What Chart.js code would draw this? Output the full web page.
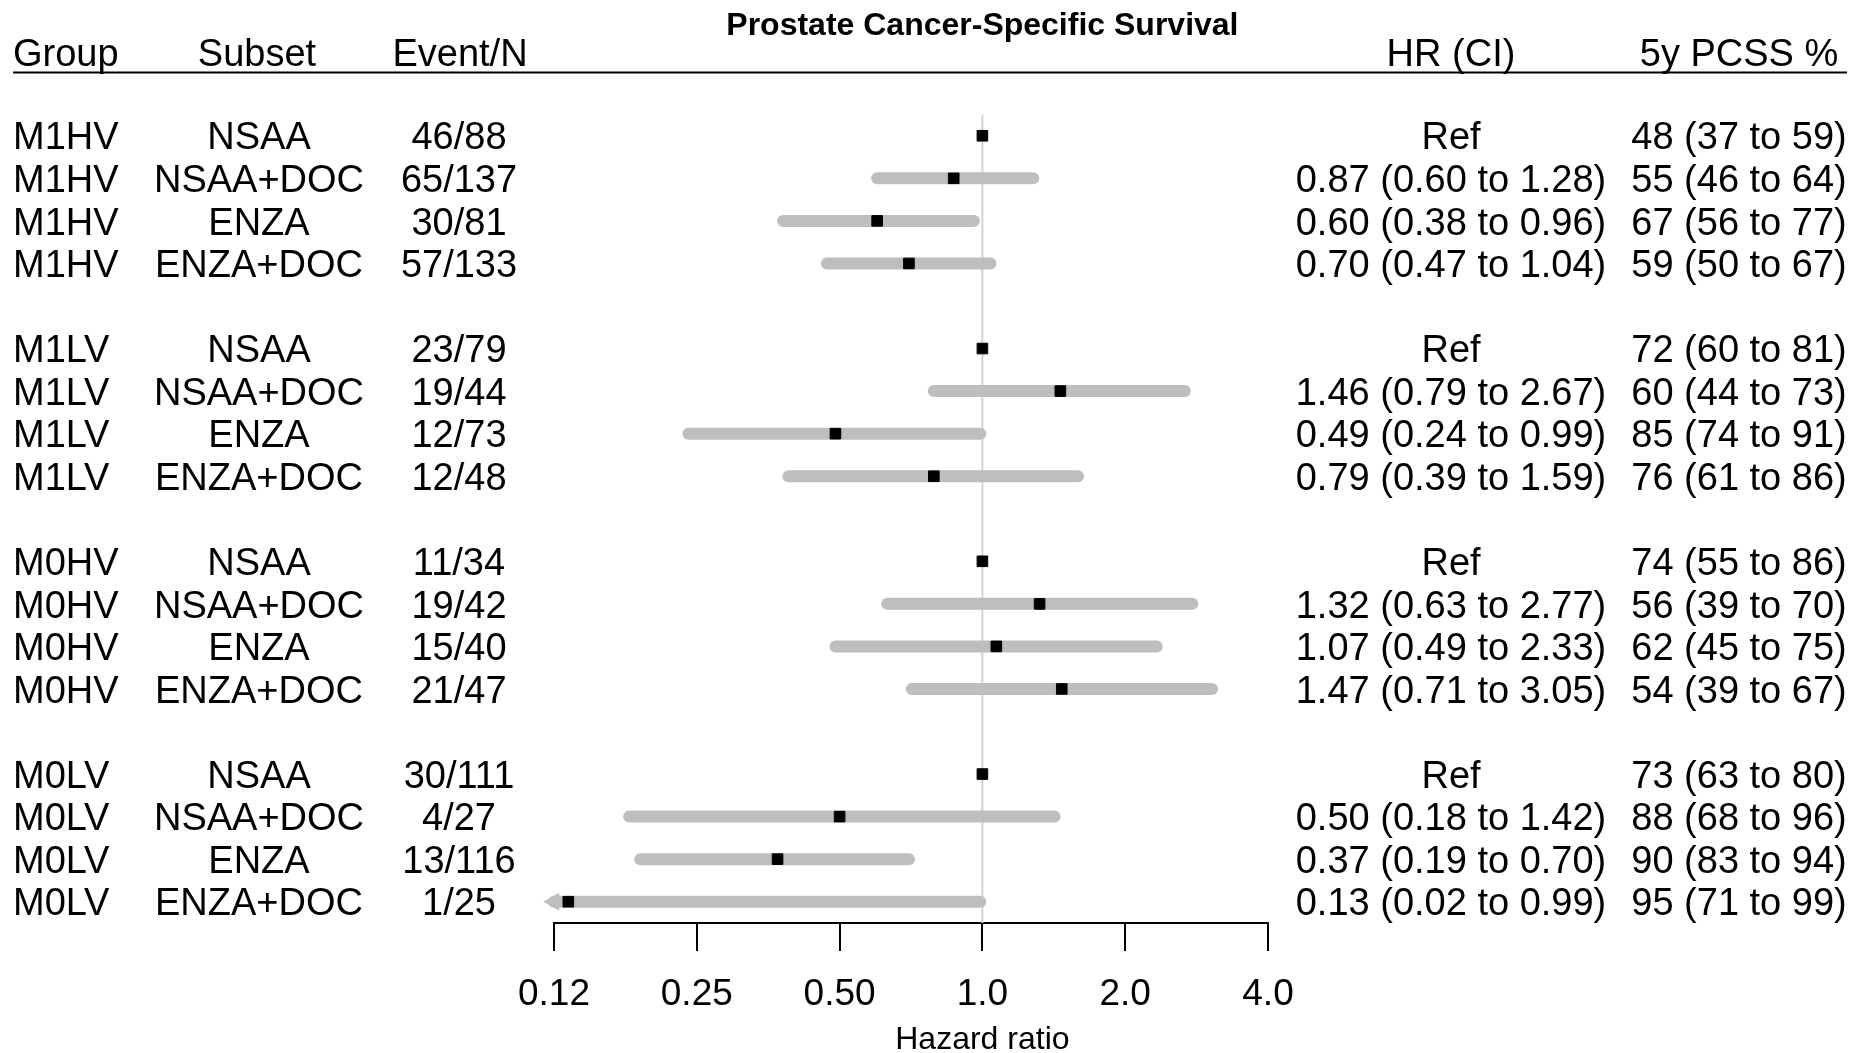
<!DOCTYPE html>
<html>
<head>
<meta charset="utf-8">
<script src="https://cdn.jsdelivr.net/npm/chart.js@4/dist/chart.umd.min.js"></script>
<style>
  body { margin: 0; background: #fff; }
  #wrap { width: 1865px; height: 1053px; }
</style>
</head>
<body>
<div id="wrap"><canvas id="forest" width="1865" height="1053"></canvas></div>
<script>
// table columns
var groups = ["M1HV", "M1LV", "M0HV", "M0LV"];
var subsets = ["NSAA", "NSAA+DOC", "ENZA", "ENZA+DOC"];
var events = ["46/88", "65/137", "30/81", "57/133",
              "23/79", "19/44", "12/73", "12/48",
              "11/34", "19/42", "15/40", "21/47",
              "30/111", "4/27", "13/116", "1/25"];
// hazard ratios and 95% CI (null = reference group)
var hr = [1, 0.87, 0.60, 0.70,
          1, 1.46, 0.49, 0.79,
          1, 1.32, 1.07, 1.47,
          1, 0.50, 0.37, 0.134];
var ciLow = [null, 0.60, 0.38, 0.47,
             null, 0.79, 0.24, 0.39,
             null, 0.63, 0.49, 0.71,
             null, 0.18, 0.19, 0.02];
var ciHigh = [null, 1.28, 0.96, 1.04,
              null, 2.67, 0.99, 1.59,
              null, 2.77, 2.33, 3.05,
              null, 1.42, 0.70, 0.99];
var pcss = ["48 (37 to 59)", "55 (46 to 64)", "67 (56 to 77)", "59 (50 to 67)",
            "72 (60 to 81)", "60 (44 to 73)", "85 (74 to 91)", "76 (61 to 86)",
            "74 (55 to 86)", "56 (39 to 70)", "62 (45 to 75)", "54 (39 to 67)",
            "73 (63 to 80)", "88 (68 to 96)", "90 (83 to 94)", "95 (71 to 99)"];
var tickValues = [0.125, 0.25, 0.5, 1, 2, 4];
var tickLabels = ["0.12", "0.25", "0.50", "1.0", "2.0", "4.0"];

var FONT = "'Liberation Sans', Arial, Helvetica, sans-serif";
var xMin = tickValues[0], xMax = tickValues[tickValues.length - 1];

// each group takes 4 rows + a blank one
function slotOf(i) { return Math.floor(i / 4) * 5 + (i % 4); }
function fmt(v) { return v.toFixed(2); }

var barSets = [];
var arrowPts = [];
var squarePts = [];
hr.forEach(function (h, i) {
  var y = slotOf(i);
  squarePts.push({ x: h, y: y });
  if (ciLow[i] === null) return;
  var lo = ciLow[i];
  if (lo < xMin) {
    arrowPts.push({ x: xMin, y: y });
    lo = xMin;
  }
  barSets.push({
    type: "line",
    data: [{ x: lo, y: y }, { x: ciHigh[i], y: y }],
    borderColor: "#bebebe",
    borderWidth: 12,
    borderCapStyle: "round",
    pointRadius: 0,
    clip: false,
    order: 2
  });
});

var tablePlugin = {
  id: "table",
  afterDraw: function (chart) {
    var ctx = chart.ctx;
    var ys = chart.scales.y;
    var xs = chart.scales.x;
    ctx.save();
    ctx.fillStyle = "#000";
    ctx.textBaseline = "alphabetic";
    var fs = 38;
    var off = fs * 0.36;
    ctx.font = fs + "px " + FONT;

    // header row
    ctx.textAlign = "left";
    ctx.fillText("Group", 13, 52 + off);
    ctx.textAlign = "center";
    ctx.fillText("Subset", 257, 52 + off);
    ctx.fillText("Event/N", 460, 52 + off);
    ctx.fillText("HR (CI)", 1451, 52 + off);
    ctx.fillText("5y PCSS %", 1739, 52 + off);

    ctx.beginPath();
    ctx.lineWidth = 2;
    ctx.strokeStyle = "#000";
    ctx.moveTo(13, 72.5);
    ctx.lineTo(1847, 72.5);
    ctx.stroke();

    // title and axis title, centred on HR = 1
    var cx = xs.getPixelForValue(1);
    ctx.font = "bold 32px " + FONT;
    ctx.fillText("Prostate Cancer-Specific Survival", cx, 23 + 11.5);
    ctx.font = "32px " + FONT;
    ctx.fillText("Hazard ratio", cx, 1037 + 11.5);

    // rows
    ctx.font = fs + "px " + FONT;
    hr.forEach(function (h, i) {
      var y = ys.getPixelForValue(slotOf(i)) + off;
      ctx.textAlign = "left";
      ctx.fillText(groups[Math.floor(i / 4)], 13, y);
      ctx.textAlign = "center";
      ctx.fillText(subsets[i % 4], 259, y);
      ctx.fillText(events[i], 459, y);
      var txt = ciLow[i] === null ? "Ref" :
        fmt(h) + " (" + fmt(ciLow[i]) + " to " + fmt(ciHigh[i]) + ")";
      ctx.fillText(txt, 1451, y);
      ctx.fillText(pcss[i], 1739, y);
    });
    ctx.restore();
  }
};

var ctx = document.getElementById("forest").getContext("2d");
var chart = new Chart(ctx, {
  type: "scatter",
  data: {
    datasets: [
      {
        data: squarePts,
        pointStyle: "rect",
        pointRadius: 7.5,
        borderWidth: 1,
        backgroundColor: "#000",
        borderColor: "#000",
        order: 0
      },
      {
        data: arrowPts,
        pointStyle: "triangle",
        rotation: -90,
        pointRadius: 10.5,
        borderWidth: 0,
        backgroundColor: "#bebebe",
        borderColor: "#bebebe",
        clip: false,
        order: 1
      },
      {
        type: "line",
        data: [{ x: 1, y: -0.5 }, { x: 1, y: 18.5 }],
        borderColor: "#d3d3d3",
        borderWidth: 2,
        pointRadius: 0,
        order: 3
      }
    ].concat(barSets)
  },
  options: {
    responsive: false,
    animation: false,
    layout: { padding: { left: 554, right: 597, top: 114.5, bottom: 0 } },
    plugins: {
      legend: { display: false },
      tooltip: { enabled: false }
    },
    scales: {
      x: {
        type: "logarithmic",
        min: xMin,
        max: xMax,
        afterBuildTicks: function (scale) {
          scale.ticks = tickValues.map(function (v) { return { value: v }; });
        },
        afterFit: function (scale) { scale.height = 1053 - 923; },
        ticks: {
          autoSkip: false,
          maxRotation: 0,
          padding: 22,
          color: "#000",
          font: { family: FONT, size: 37 },
          callback: function (v) {
            var k = tickValues.indexOf(v);
            return k >= 0 ? tickLabels[k] : "";
          }
        },
        grid: {
          drawOnChartArea: false,
          drawTicks: true,
          tickLength: 28,
          color: "#000",
          lineWidth: 2
        },
        border: { display: true, color: "#000", width: 2 },
        title: { display: false }
      },
      y: {
        type: "linear",
        display: false,
        reverse: true,
        min: -0.5,
        max: 18.5
      }
    }
  },
  plugins: [tablePlugin]
});
</script>
</body>
</html>
